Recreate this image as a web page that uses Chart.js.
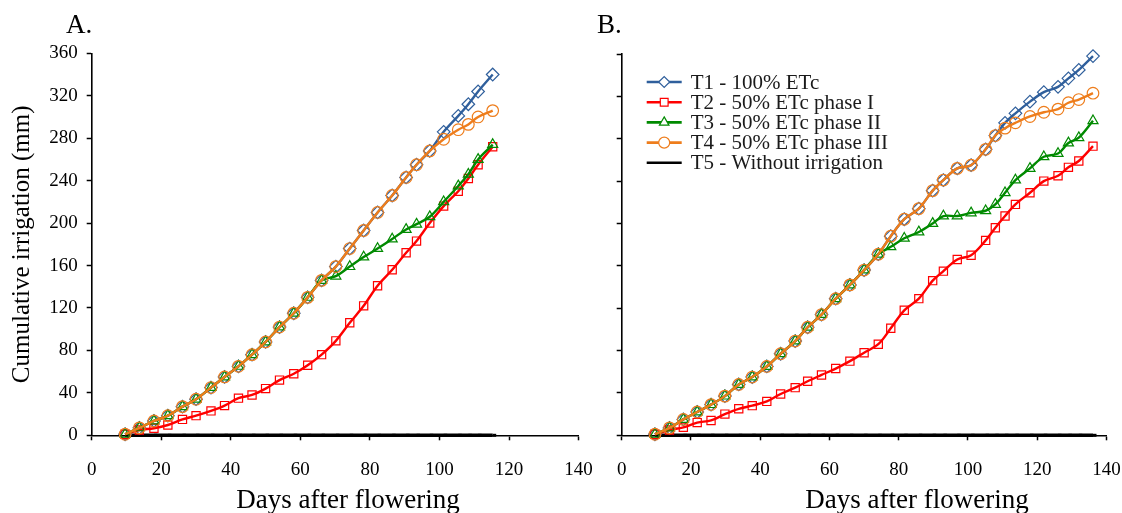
<!DOCTYPE html>
<html>
<head>
<meta charset="utf-8">
<script src="https://cdn.jsdelivr.net/npm/chart.js@4"></script>
<style>
  body { margin: 0; background: #fff; }
  #wrap { position: relative; width: 1122px; height: 513px; overflow: hidden; }
  canvas { position: absolute; top: 0; }
  .lbl { position: absolute; font-family: "Liberation Serif", "Times New Roman", serif; color: #000; line-height: 1; white-space: nowrap; }
</style>
</head>
<body>
<div id="wrap">
  <canvas id="chartA" width="600" height="513" style="left:0"></canvas>
  <canvas id="chartB" width="592" height="513" style="left:530px"></canvas>
  <div class="lbl" style="left:66px;top:11px;font-size:27px">A.</div>
  <div class="lbl" style="left:597px;top:11px;font-size:27px">B.</div>
  <div class="lbl" style="left:208px;top:486px;width:280px;text-align:center;font-size:27px">Days after flowering</div>
  <div class="lbl" style="left:777px;top:486px;width:280px;text-align:center;font-size:27px">Days after flowering</div>
</div>
<script>
const labels = ['T1 - 100% ETc', 'T2 - 50% ETc phase I', 'T3 - 50% ETc phase II', 'T4 - 50% ETc phase III', 'T5 - Without irrigation'];
const xTicks = [0, 20, 40, 60, 80, 100, 120, 140];
const yTicks = [0, 40, 80, 120, 160, 200, 240, 280, 320, 360];

// panel A
const daysA = [9.6, 13.7, 17.9, 21.9, 26.1, 30.0, 34.3, 38.2, 42.2, 46.1, 50.0, 54.0, 58.1, 62.1, 66.1, 70.2, 74.2, 78.2, 82.2, 86.4, 90.4, 93.4, 97.2, 101.2, 105.4, 108.3, 111.1, 115.3];
const t1A = [1, 7, 13.5, 18.5, 27, 34, 45, 55, 65, 76, 88, 102, 115, 130, 146, 159, 176, 193, 210, 226, 243, 255, 268, 286, 301, 312, 324, 340];
const t2A = [1, 5, 6.6, 9.7, 15, 18.5, 23, 28, 35, 38, 44, 52, 58, 66, 76, 89, 106, 122, 141, 156, 172, 183, 200, 216, 230, 242, 255, 272];
const t3A = [1, 7, 13.5, 18.5, 27, 34, 45, 55, 65, 76, 88, 102, 115, 130, 146, 150, 159, 168, 176, 185, 194, 199, 206, 220, 235, 246, 260, 274];
const t4A = [1, 7, 13.5, 18.5, 27, 34, 45, 55, 65, 76, 88, 102, 115, 130, 146, 159, 176, 193, 210, 226, 243, 255, 268, 279, 288, 293, 300, 306];
const t5A = [0, 0, 0, 0, 0, 0, 0, 0, 0, 0, 0, 0, 0, 0, 0, 0, 0, 0, 0, 0, 0, 0, 0, 0, 0, 0, 0, 0];

// panel B
const daysB = [9.6, 13.8, 17.8, 21.8, 25.8, 29.8, 33.8, 37.7, 41.9, 45.9, 50.1, 53.7, 57.7, 61.8, 65.9, 70.0, 74.1, 77.7, 81.6, 85.8, 89.8, 92.9, 96.9, 100.9, 105.1, 107.9, 110.7, 113.7, 117.9, 121.9, 126.0, 129.0, 132.0, 136.1];
const t1B = [1, 7, 15, 22, 29, 37, 48, 55, 65, 77, 89, 102, 114, 129, 142, 156, 171, 188, 204, 214, 231, 241, 252, 255, 270, 283, 295, 304, 315, 324, 329, 337, 345, 358];
const t2B = [1, 5, 7.5, 12, 14, 20, 25, 28, 32, 39, 45, 51, 57, 63, 70, 78, 86, 101, 118, 129, 146, 155, 166, 170, 184, 196, 207, 218, 229, 240, 245, 253, 259, 273];
const t3B = [1, 7, 15, 22, 29, 37, 48, 55, 65, 77, 89, 102, 114, 129, 142, 156, 171, 178, 186, 192, 200, 207, 207, 210, 212, 218, 229, 241, 252, 263, 266, 276, 281, 297];
const t4B = [1, 7, 15, 22, 29, 37, 48, 55, 65, 77, 89, 102, 114, 129, 142, 156, 171, 188, 204, 214, 231, 241, 252, 255, 270, 283, 290, 295, 301, 305, 308, 314, 317, 323];
const t5B = [0, 0, 0, 0, 0, 0, 0, 0, 0, 0, 0, 0, 0, 0, 0, 0, 0, 0, 0, 0, 0, 0, 0, 0, 0, 0, 0, 0, 0, 0, 0, 0, 0, 0];

const colors = ['#2f5f9c', '#ff0000', '#008a00', '#ee7d1c', '#000000'];
const styles = ['rectRot', 'rect', 'triangle', 'circle', 'dash'];
const serif = '"Liberation Serif", "Times New Roman", serif';

const pts = (days, vals) => vals.map((v, i) => ({ x: days[i], y: v }));

const makeSets = (days, series) => series.map((vals, i) => ({
  label: labels[i],
  data: pts(days, vals),
  borderColor: colors[i],
  backgroundColor: colors[i],
  borderWidth: i === 4 ? 3.5 : 2.4,
  tension: 0.35,
  clip: false,
  pointStyle: styles[i],
  pointRadius: i === 4 ? 3.5 : (i === 0 ? 6.3 : 5.8),
  pointBorderWidth: i === 4 ? 3 : 1.2,
  pointBackgroundColor: 'rgba(255,255,255,0)',
  pointBorderColor: colors[i],
  order: [3, 2, 1, 0, 4][i]
}));

// legend drawn inside panel B, line + marker + text
const legendInside = {
  id: 'legendInside',
  afterDraw(chart) {
    const { ctx, chartArea } = chart;
    const x0 = chartArea.left + 25, x1 = chartArea.left + 60;
    ctx.save();
    chart.data.datasets.forEach((ds, i) => {
      const y = chartArea.top + 28 + i * 20.2;
      ctx.strokeStyle = ds.borderColor;
      ctx.lineWidth = 2.6;
      ctx.beginPath(); ctx.moveTo(x0, y); ctx.lineTo(x1, y); ctx.stroke();
      if (i < 4) {
        ctx.fillStyle = '#fff';
        ctx.lineWidth = 1.2;
        Chart.helpers.drawPoint(ctx, { pointStyle: ds.pointStyle, radius: 5.5, borderWidth: 1.2, rotation: 0 }, (x0 + x1) / 2, y);
      }
      ctx.fillStyle = '#1a1a1a';
      ctx.font = '21px ' + serif;
      ctx.textBaseline = 'middle';
      ctx.fillText(ds.label, x1 + 9, y + 1);
    });
    ctx.restore();
  }
};

function makePanel(id, days, series, withLabels, pad) {
  return new Chart(document.getElementById(id), {
    type: 'line',
    data: { datasets: makeSets(days, series) },
    options: {
      responsive: false,
      animation: false,
      layout: { padding: pad },
      plugins: { legend: { display: false }, tooltip: { enabled: false } },
      scales: {
        x: {
          type: 'linear', min: 0, max: 140,
          afterBuildTicks: s => { s.ticks = xTicks.map(v => ({ value: v })); },
          afterFit: s => { s.height = 513 - 435.3; s.paddingLeft = 0; s.paddingRight = 0; },
          ticks: { color: '#000', font: { family: serif, size: 19 }, padding: 18, maxRotation: 0 },
          grid: { drawOnChartArea: false, tickLength: 5, tickColor: '#000', tickWidth: 1.5 },
          border: { color: '#000', width: 1.6 }
        },
        y: {
          min: 0, max: 360,
          afterBuildTicks: s => { s.ticks = yTicks.map(v => ({ value: v })); },
          afterFit: s => { s.width = 91.7; },
          ticks: { display: withLabels, color: '#000', font: { family: serif, size: 19 }, padding: 9 },
          grid: { drawOnChartArea: false, tickLength: 5, tickColor: '#000', tickWidth: 1.5 },
          border: { color: '#000', width: 1.6 },
          title: { display: withLabels, text: 'Cumulative irrigation (mm)', color: '#000', font: { family: serif, size: 25 }, padding: { top: 7, bottom: 0 } }
        }
      }
    },
    plugins: withLabels ? [] : [legendInside]
  });
}

makePanel('chartA', daysA, [t1A, t2A, t3A, t4A, t5A], true, { left: 0, top: 53.3, right: 21.4, bottom: 0 });
makePanel('chartB', daysB, [t1B, t2B, t3B, t4B, t5B], false, { left: 0, top: 54, right: 15.5, bottom: 0 });
</script>
</body>
</html>
